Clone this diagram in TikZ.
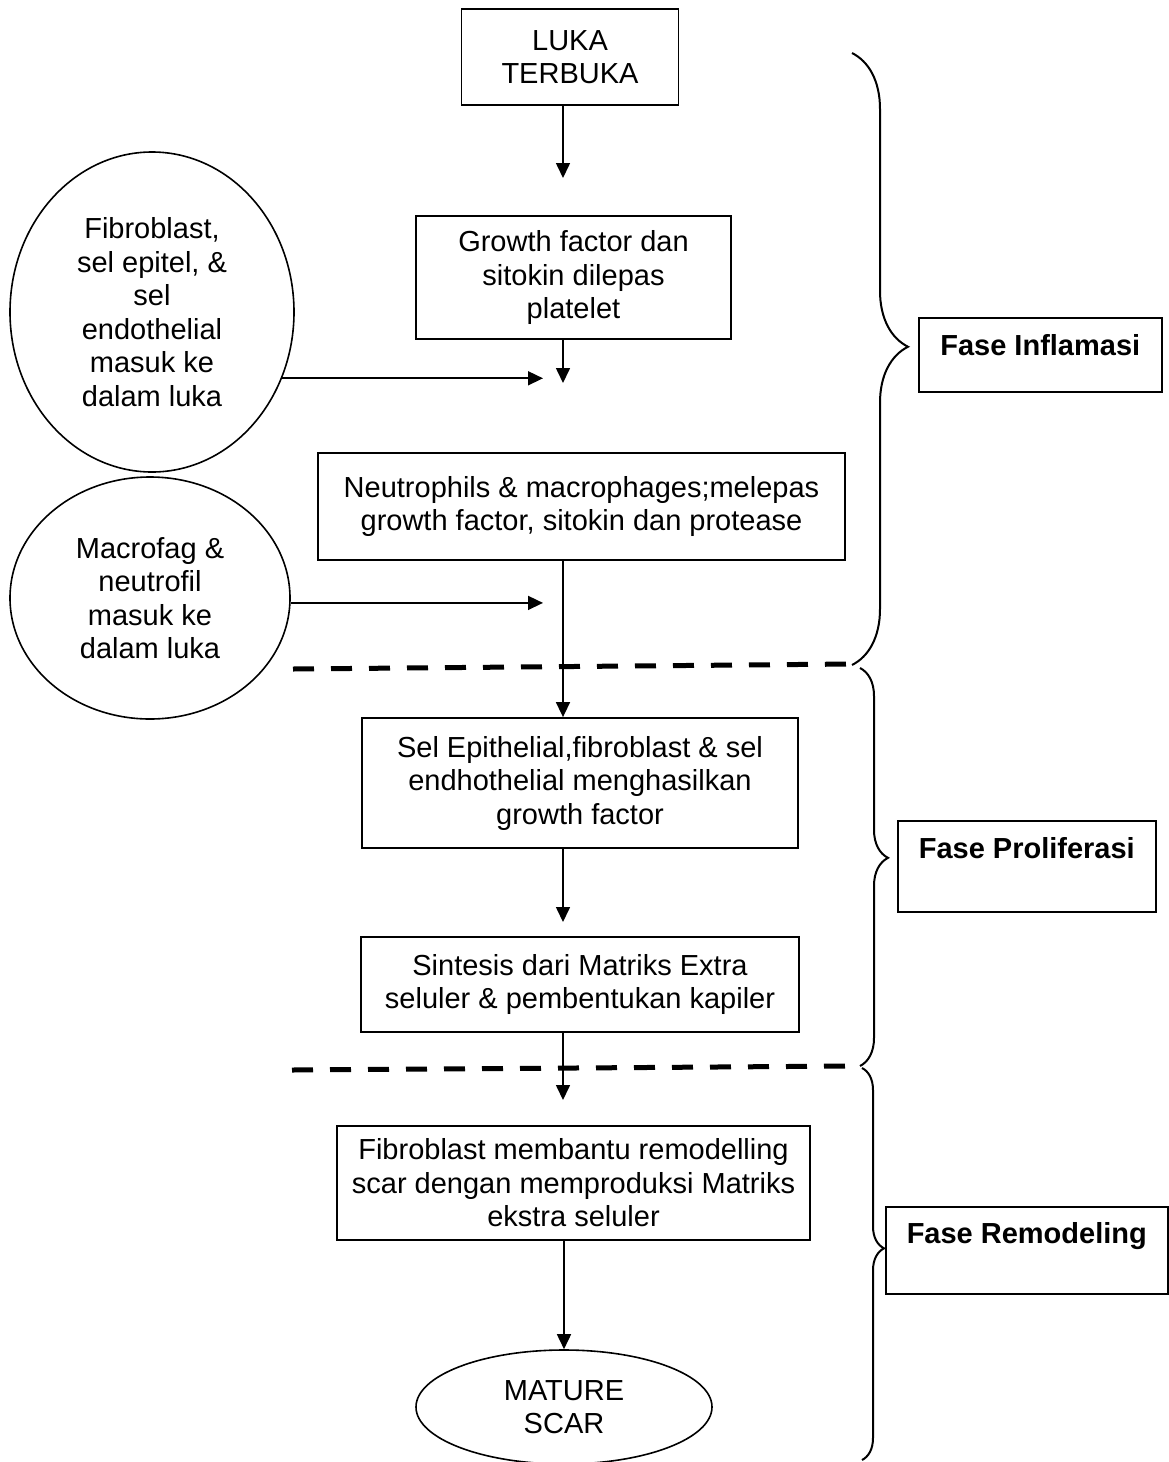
\documentclass[tikz,border=0pt]{standalone}
\usepackage{fontspec}
\setmainfont{Liberation Sans}
\usetikzlibrary{arrows.meta,shapes.geometric,decorations.pathreplacing}

\begin{document}
\begin{tikzpicture}[x=1pt,y=-1pt,
    kotak/.style={draw,line width=1.8pt,align=center,inner sep=0pt,font=\fontsize{29}{33.5}\selectfont},
    elips/.style={draw,ellipse,line width=1.6pt,align=center,inner sep=0pt,font=\fontsize{29}{33.5}\selectfont},
    fase/.style={draw,line width=1.6pt,inner sep=0pt,anchor=north west,font=\fontsize{29}{33.5}\selectfont\bfseries},
    panah/.style={line width=1.6pt,-{Triangle[length=15pt,width=14pt]}},
    putus/.style={line width=5pt,dash pattern=on 21pt off 17pt},
    kurung/.style 2 args={line width=2pt,decorate,decoration={brace,amplitude=#1,aspect=#2}}]
    \useasboundingbox (0,0) rectangle (1168,1462);
    \node[kotak,minimum width=217pt,minimum height=96pt] (luka) at (570,57) {LUKA\\TERBUKA};
    \node[kotak,minimum width=315pt,minimum height=123pt] (growth) at (573.5,277.5) {Growth factor dan\\sitokin dilepas\\platelet};
    \node[kotak,minimum width=527pt,minimum height=107pt] (neutro) at (581.5,506.5) {Neutrophils \& macrophages;melepas\\growth factor, sitokin dan protease};
    \node[kotak,minimum width=436pt,minimum height=130pt] (epitel) at (580,783) {Sel Epithelial,fibroblast \& sel\\endhothelial menghasilkan\\growth factor};
    \node[kotak,minimum width=438pt,minimum height=95pt] (sintesis) at (580,984.5) {Sintesis dari Matriks Extra\\seluler \& pembentukan kapiler};
    \node[kotak,minimum width=473pt,minimum height=114pt] (remodel) at (573.5,1183) {Fibroblast membantu remodelling\\scar dengan memproduksi Matriks\\ekstra seluler};
    \node[elips,minimum width=296pt,minimum height=114pt] (scar) at (564,1407) {MATURE\\SCAR};
    \node[elips,minimum width=284pt,minimum height=320pt] (elfibro) at (152,312) {Fibroblast,\\sel epitel, \&\\sel\\endothelial\\masuk ke\\dalam luka};
    \node[elips,minimum width=280pt,minimum height=242pt] (elmacro) at (150,598) {Macrofag \&\\neutrofil\\masuk ke\\dalam luka};
    \node[fase,minimum width=243pt,text height=38pt,text depth=36pt] (inflamasi) at (918,317) {Fase Inflamasi};
    \node[fase,minimum width=258pt,text height=38pt,text depth=53pt] (proliferasi) at (897,820) {Fase Proliferasi};
    \node[fase,minimum width=282pt,text height=37pt,text depth=50pt] (remodeling) at (885,1206) {Fase Remodeling};
    \coordinate (sumbu) at (563,0);
    \coordinate (ujung1) at (563,178);
    \coordinate (ujung2) at (563,383);
    \coordinate (ujung3) at (563,922);
    \coordinate (ujung4) at (563,1100);
    \coordinate (ujungA) at (543,378);
    \coordinate (ujungB) at (543,603);
    \draw[panah] (luka.south -| sumbu) -- (ujung1);
    \draw[panah] (growth.south -| sumbu) -- (ujung2);
    \draw[panah] (neutro.south -| sumbu) -- (epitel.north -| sumbu);
    \draw[panah] (epitel.south -| sumbu) -- (ujung3);
    \draw[panah] (sintesis.south -| sumbu) -- (ujung4);
    \draw[panah] (remodel.south -| scar.north) -- (scar.north);
    \draw[panah] (elfibro.-27) -- (elfibro.-27 -| ujungA);
    \draw[panah] (elmacro.-2) -- (elmacro.-2 -| ujungB);
    \draw[putus] (293,669) -- (853,664);
    \draw[putus] (292,1070) -- (857,1066);
    \draw[kurung={56pt}{0.48}] (852,53) -- (852,665);
    \draw[kurung={28pt}{0.477}] (860,668) -- (860,1066);
    \draw[kurung={22pt}{0.46}] (862,1068) -- (862,1460);
\end{tikzpicture}
\end{document}
